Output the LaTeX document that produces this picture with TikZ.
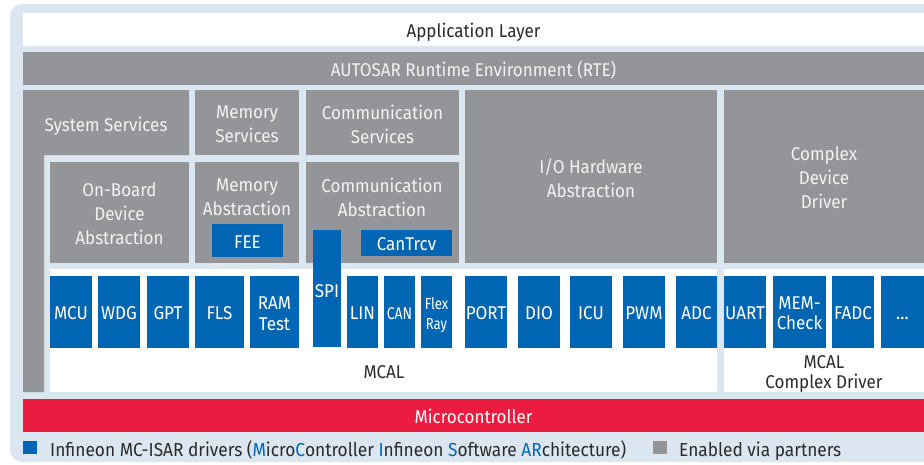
\documentclass[tikz,border=0pt]{standalone}
\usepackage{fontspec}
\setmainfont{Fira Sans}[FakeStretch=0.92]
\newfontfamily\narrowfont{Fira Sans}[FakeStretch=0.82]
\definecolor{frameBlue}{HTML}{DCE6F0}
\definecolor{ifxGray}{HTML}{939598}
\definecolor{ifxBlue}{HTML}{0066B3}
\definecolor{ifxRed}{HTML}{EB1C3F}
\definecolor{txtDark}{HTML}{2B2B2B}
\definecolor{txtLight}{HTML}{F2F2F2}
\newcommand\fsmain{\fontsize{18.5}{24}\selectfont}
\newcommand\fslegend{\fontsize{18.8}{24}\selectfont}
\newcommand\fsnarrow{\narrowfont\fontsize{17}{24}\selectfont}
\newcommand\fsnarrowsmall{\narrowfont\fontsize{16}{20}\selectfont}
% invisible rule that centres capital letters on the node centre
\newcommand\tstrut{\vrule height19pt depth4pt width0pt\relax}
% single-line block placed by its corners: style, name, x1, y1, x2, y2, text
\newcommand\blk[7]{%
  \node[#1, minimum width={(#5-#3)*1pt}, minimum height={(#6-#4)*1pt}]
    (#2) at ({(#3+#5)/2},{(#4+#6)/2}) {#7};}
% multi-line block: the box, then its text set a little lower
\newcommand\blkm[7]{%
  \node[#1, minimum width={(#5-#3)*1pt}, minimum height={(#6-#4)*1pt}]
    (#2) at ({(#3+#5)/2},{(#4+#6)/2}) {};
  \node[#1, fill=none, yshift=-3.5pt] (#2-text) at (#2.center) {#7};}
\tikzset{
  struts/.style={execute at begin node=\tstrut, execute at end node=\tstrut},
  blockbase/.style={inner sep=0pt, outer sep=0pt, align=center, font=\fsmain, struts},
  whitebox/.style={blockbase, fill=white, text=txtDark},
  graybox/.style={blockbase, fill=ifxGray, text=txtLight},
  bluebox/.style={blockbase, fill=ifxBlue, text=white},
  redbox/.style={blockbase, fill=ifxRed, text=white},
  plainlabel/.style={inner sep=0pt, align=center, font=\fsmain, text=txtDark, struts},
  graylabel/.style={inner sep=0pt, align=center, font=\fsmain, text=txtLight, struts},
}
\begin{document}
\begin{tikzpicture}[x=1pt, y=-1pt]
\useasboundingbox (0,0) rectangle (924,464);
\clip (0,0) rectangle (924,464);
% light blue frame
\fill[frameBlue, rounded corners=12pt] (10,4) rectangle (950,462);

% upper layers
\blk{whitebox}{app}{23}{13}{924}{46}{Application Layer}
\blk{graybox}{rte}{23}{52}{924}{85}{AUTOSAR Runtime Environment (RTE)}

% system services (L-shaped)
\fill[ifxGray] (23,90) -- (189,90) -- (189,155) -- (44,155) -- (44,392) -- (23,392) -- cycle;
\node[graylabel] (syssrv) at (106,124) {System Services};

\blkm{graybox}{memsrv}{195}{90}{299}{155}{Memory\\Services}
\blkm{graybox}{comsrv}{306}{90}{459}{155}{Communication\\Services}
\blkm{graybox}{iohw}{465}{90}{717}{263}{I/O Hardware\\Abstraction}
\blkm{graybox}{cdd}{724}{90}{924}{263}{Complex\\Device\\Driver}

% abstraction layer
\blkm{graybox}{onboard}{50}{162}{189}{263}{On-Board\\Device\\Abstraction}
\blk{graybox}{memabs}{195}{162}{299}{263}{}
\node[graylabel] (memabslbl) at (247,199) {Memory\\Abstraction};
\blk{graybox}{comabs}{306}{162}{459}{263}{}
\node[graylabel] (comabslbl) at (382,199) {Communication\\Abstraction};
\blk{bluebox}{fee}{212}{224}{283}{257}{FEE}
\blk{bluebox}{cantrcv}{361}{230}{452}{256}{CanTrcv}

% MCAL areas
\blk{whitebox}{mcal}{50}{269}{717}{392}{}
\blk{whitebox}{mcalcd}{724}{269}{924}{392}{}
\node[plainlabel] (mcallbl) at (384,370.5) {MCAL};
\node[plainlabel, font=\fontsize{18.5}{20}\selectfont] (mcalcdlbl) at (824,374.5) {MCAL\\Complex Driver};

% drivers
\blk{bluebox}{mcu}{50}{276}{92}{348}{MCU}
\blk{bluebox}{wdg}{98}{276}{140}{348}{WDG}
\blk{bluebox}{gpt}{147}{276}{189}{348}{GPT}
\blk{bluebox}{fls}{195}{276}{244}{348}{FLS}
\blkm{bluebox, font=\fontsize{18.5}{21}\selectfont}{ramtest}{250}{276}{299}{348}{RAM\\Test}
\blk{bluebox}{spi}{313}{230}{341}{347}{}
\node[inner sep=0pt, font=\fsmain, text=white, struts] (spilbl) at (327,290) {SPI};
\blk{bluebox}{lin}{347}{276}{378}{348}{LIN}
\blk{bluebox, font=\fsnarrow}{can}{384}{276}{415}{348}{CAN}
\blkm{bluebox, font=\fsnarrowsmall}{flexray}{421}{276}{452}{348}{Flex\\Ray}
\blk{bluebox}{port}{465}{276}{507}{348}{PORT}
\blk{bluebox}{dio}{518}{276}{560}{348}{DIO}
\blk{bluebox}{icu}{570}{276}{612}{348}{ICU}
\blk{bluebox}{pwm}{623}{276}{665}{348}{PWM}
\blk{bluebox}{adc}{676}{276}{717}{348}{ADC}
\blk{bluebox}{uart}{724}{276}{766}{348}{UART}
\blkm{bluebox, font=\fontsize{18.5}{20}\selectfont}{memcheck}{773}{276}{826}{348}{MEM-\\Check}
\blk{bluebox}{fadc}{832}{276}{874}{348}{FADC}
\blk{bluebox}{more}{881}{276}{924}{348}{\ldots}

% hardware
\blk{redbox}{mcu hw}{23}{399}{924}{432}{Microcontroller}

% legend
\fill[ifxBlue] (23,441) rectangle (37,454);
\node[plainlabel, font=\fslegend, anchor=west] (legblue) at (50,449)
  {Infineon MC-ISAR drivers (\textcolor{ifxBlue}{M}icro\textcolor{ifxBlue}{C}ontroller
   \textcolor{ifxBlue}{I}nfineon \textcolor{ifxBlue}{S}oftware \textcolor{ifxBlue}{AR}chitecture)};
\fill[ifxGray] (653,441) rectangle (667,454);
\node[plainlabel, font=\fslegend, anchor=west] (leggray) at (679,449) {Enabled via partners};
\end{tikzpicture}
\end{document}
